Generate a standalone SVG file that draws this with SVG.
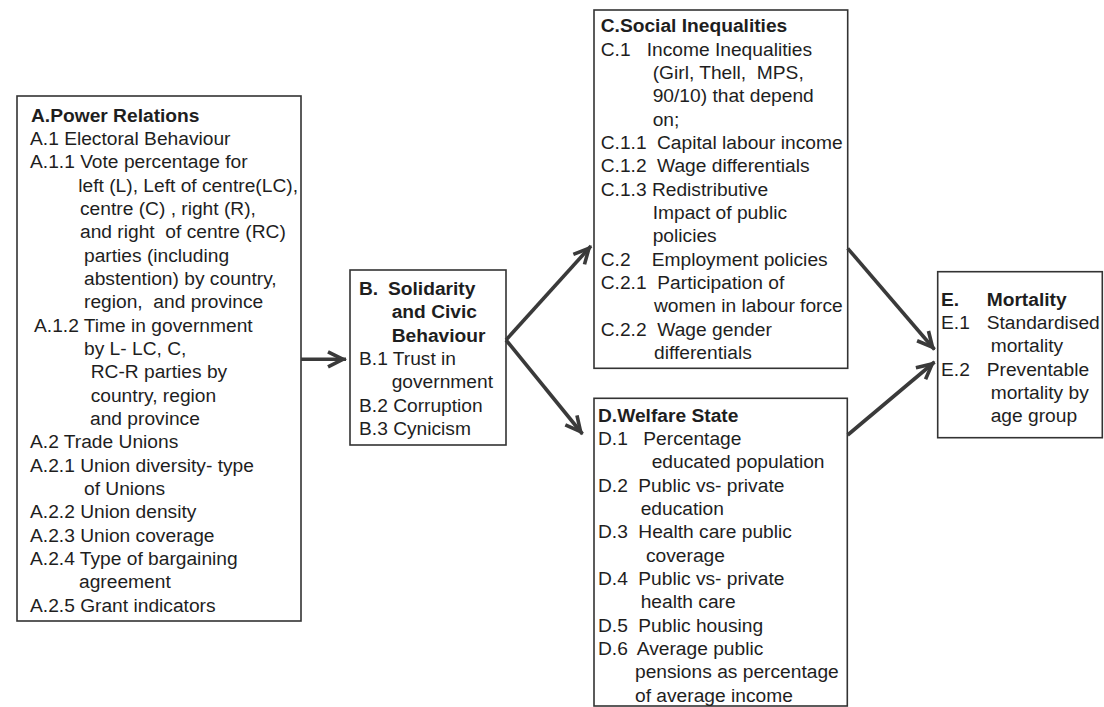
<svg xmlns="http://www.w3.org/2000/svg" width="1104" height="707" viewBox="0 0 1104 707">
  <style>
    .box { fill: #ffffff; stroke: #333333; stroke-width: 1.6; }
    text { font-family: "Liberation Sans", Arial, Helvetica, sans-serif; font-size: 19.2px; fill: #1e1e1e; }
    .b { font-weight: bold; }
    .link { stroke: #3a3a3a; stroke-width: 3.6; fill: none; marker-end: url(#ah); }
  </style>
  <defs>
    <marker id="ah" viewBox="-20 -12 26 24" refX="3" refY="0" markerWidth="26" markerHeight="24" markerUnits="userSpaceOnUse" orient="auto">
      <path d="M-15,-7.5 L0,0 L-15,7.5" fill="none" stroke="#3a3a3a" stroke-width="3.6"/>
    </marker>
  </defs>
  <rect width="1104" height="707" fill="#ffffff"/>

  <!-- A: power relations -->
  <g id="nodeA">
    <rect class="box" x="17" y="96" width="284" height="525"/>
    <text class="b" x="31" y="121.7">A.Power Relations</text>
    <text x="30" y="145">A.1 Electoral Behaviour</text>
    <text x="30" y="168.3">A.1.1 Vote percentage for</text>
    <text x="78.3" y="191.7">left (L), Left of centre(LC),</text>
    <text x="80" y="215">centre (C) , right (R),</text>
    <text x="80" y="238.3" xml:space="preserve">and right  of centre (RC)</text>
    <text x="84" y="261.7">parties (including</text>
    <text x="84" y="285">abstention) by country,</text>
    <text x="84" y="308.3" xml:space="preserve">region,  and province</text>
    <text x="34" y="331.7">A.1.2 Time in government</text>
    <text x="84" y="355">by L- LC, C,</text>
    <text x="90.7" y="378.3">RC-R parties by</text>
    <text x="90.7" y="401.7">country, region</text>
    <text x="90" y="425">and province</text>
    <text x="30" y="448.3">A.2 Trade Unions</text>
    <text x="30" y="471.7">A.2.1 Union diversity- type</text>
    <text x="84" y="495">of Unions</text>
    <text x="30" y="518.3">A.2.2 Union density</text>
    <text x="30" y="541.7">A.2.3 Union coverage</text>
    <text x="30" y="565">A.2.4 Type of bargaining</text>
    <text x="79" y="588.3">agreement</text>
    <text x="30" y="611.7">A.2.5 Grant indicators</text>
  </g>

  <!-- B: solidarity and civic behaviour -->
  <g id="nodeB">
    <rect class="box" x="350" y="270" width="156" height="175"/>
    <text class="b" x="359" y="295">B.</text>
    <text class="b" x="388" y="295">Solidarity</text>
    <text class="b" x="391.7" y="318.3">and Civic</text>
    <text class="b" x="391.7" y="341.7">Behaviour</text>
    <text x="359" y="365">B.1 Trust in</text>
    <text x="391.7" y="388.3">government</text>
    <text x="359" y="411.7">B.2 Corruption</text>
    <text x="359" y="435">B.3 Cynicism</text>
  </g>

  <!-- C: social inequalities -->
  <g id="nodeC">
    <rect class="box" x="594" y="10" width="253.7" height="358.3"/>
    <text class="b" x="600.7" y="32.3">C.Social Inequalities</text>
    <text x="600.7" y="55.7">C.1</text>
    <text x="646.7" y="55.7">Income Inequalities</text>
    <text x="652.7" y="79" xml:space="preserve">(Girl, Thell,  MPS,</text>
    <text x="652.7" y="102.3">90/10) that depend</text>
    <text x="652.7" y="125.7">on;</text>
    <text x="600.7" y="149">C.1.1</text>
    <text x="657" y="149">Capital labour income</text>
    <text x="600.7" y="172.3">C.1.2</text>
    <text x="657" y="172.3">Wage differentials</text>
    <text x="600.7" y="195.7">C.1.3 Redistributive</text>
    <text x="652.7" y="219">Impact of public</text>
    <text x="652.7" y="242.3">policies</text>
    <text x="600.7" y="265.7">C.2</text>
    <text x="651.7" y="265.7">Employment policies</text>
    <text x="600.7" y="289">C.2.1</text>
    <text x="657.3" y="289">Participation of</text>
    <text x="654" y="312.3">women in labour force</text>
    <text x="600.7" y="335.7">C.2.2</text>
    <text x="657.3" y="335.7">Wage gender</text>
    <text x="654" y="359">differentials</text>
  </g>

  <!-- D: welfare state -->
  <g id="nodeD">
    <rect class="box" x="594" y="398.3" width="253.3" height="307.7"/>
    <text class="b" x="598" y="421.7">D.Welfare State</text>
    <text x="598" y="445">D.1</text>
    <text x="643.3" y="445">Percentage</text>
    <text x="651.7" y="468.3">educated population</text>
    <text x="598" y="491.7">D.2</text>
    <text x="638.3" y="491.7">Public vs- private</text>
    <text x="640.7" y="515">education</text>
    <text x="598" y="538.3">D.3</text>
    <text x="638.3" y="538.3">Health care public</text>
    <text x="646" y="561.7">coverage</text>
    <text x="598" y="585">D.4</text>
    <text x="638.3" y="585">Public vs- private</text>
    <text x="640.7" y="608.3">health care</text>
    <text x="598" y="631.7">D.5</text>
    <text x="638.3" y="631.7">Public housing</text>
    <text x="598" y="655">D.6</text>
    <text x="636.7" y="655">Average public</text>
    <text x="635" y="678.3">pensions as percentage</text>
    <text x="635" y="701.7">of average income</text>
  </g>

  <!-- E: mortality -->
  <g id="nodeE">
    <rect class="box" x="937.7" y="271.7" width="164.6" height="166"/>
    <text class="b" x="941" y="305.7">E.</text>
    <text class="b" x="986.7" y="305.7">Mortality</text>
    <text x="941" y="329">E.1</text>
    <text x="986.7" y="329">Standardised</text>
    <text x="990.7" y="352.3">mortality</text>
    <text x="941" y="375.7">E.2</text>
    <text x="986.7" y="375.7">Preventable</text>
    <text x="990.7" y="399">mortality by</text>
    <text x="990.7" y="422.3">age group</text>
  </g>

  <!-- connectors -->
  <g id="connectors">
    <line class="link" x1="301" y1="359.3" x2="346" y2="359.3"/>
    <line class="link" x1="506" y1="340" x2="591" y2="246"/>
    <line class="link" x1="506" y1="340" x2="582.5" y2="434"/>
    <line class="link" x1="847.7" y1="248.3" x2="934.5" y2="349.5"/>
    <line class="link" x1="847.7" y1="435" x2="934.5" y2="362"/>
  </g>
</svg>
